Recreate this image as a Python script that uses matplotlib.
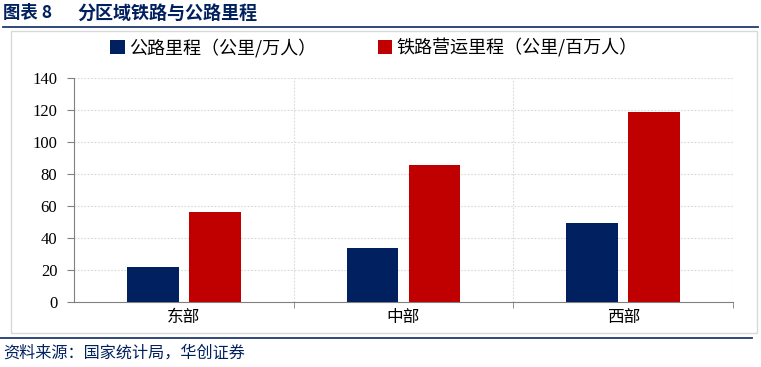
import numpy as np
import matplotlib
matplotlib.use("Agg")
import matplotlib.pyplot as plt
from matplotlib.patches import Rectangle
from matplotlib.lines import Line2D

plt.rcParams['font.family'] = ['Noto Sans CJK SC', 'DejaVu Sans']

regions  = ["东部", "中部", "西部"]
highway  = [22, 34, 49.5]
railway  = [56.5, 85.5, 118.5]
names    = ["公路里程（公里/万人）", "铁路营运里程（公里/百万人）"]
yticks   = [0, 20, 40, 60, 80, 100, 120, 140]

navy = "#002060"
red  = "#C00000"
line = "#1F3A6E"

W, H = 761, 367
fig = plt.figure(figsize=(W/100, H/100), dpi=100)

def fx(px): return px / W
def fy(py): return 1 - py / H

# title + rules
fig.text(fx(3), fy(13), "图表 8", fontsize=12.5, fontweight="bold",
         color=navy, va="center", ha="left")
fig.text(fx(77), fy(13), "分区域铁路与公路里程", fontsize=13, fontweight="bold",
         color=navy, va="center", ha="left")
fig.add_artist(Line2D([fx(3), fx(758)], [fy(27), fy(27)], color=line, lw=1.3))
fig.add_artist(Line2D([fx(0), fx(752)], [fy(337.5), fy(337.5)], color=line, lw=1.3))
fig.add_artist(Rectangle((fx(11), fy(333)), fx(757) - fx(11), fy(31) - fy(333),
                         fill=False, ec="#D9D9D9", lw=1.0))
fig.text(fx(3), fy(353), "资料来源：国家统计局，华创证券", fontsize=11.6, style="italic",
         color=navy, va="center", ha="left")

ax = fig.add_axes([fx(74), fy(302), fx(733) - fx(74), fy(78) - fy(302)])
x = np.arange(len(regions))
bw = 0.236
off = 0.141
b1 = ax.bar(x - off, highway, bw, color=navy, label=names[0], zorder=3)
b2 = ax.bar(x + off, railway, bw, color=red, label=names[1], zorder=3)

ax.set_xlim(-0.5, 2.5)
ax.set_ylim(0, 140)
ax.set_yticks(yticks)
ax.set_yticklabels([str(v) for v in yticks], fontfamily="Liberation Serif", fontsize=12)
ax.set_xticks(x)
ax.set_xticklabels(regions, fontsize=12)
ax.set_xticks([0.5, 1.5, 2.5], minor=True)
ax.tick_params(axis="x", which="major", length=0, pad=5)
ax.tick_params(axis="x", which="minor", length=4, color="#808080")
ax.tick_params(axis="y", length=5, color="#808080", pad=7)

ax.grid(axis="y", color="#D9D9D9", ls=(0, (1.5, 1.5)), lw=0.8, zorder=0)
for v in [0.5, 1.5, 2.5]:
    ax.axvline(v, color="#D9D9D9", ls=(0, (1.5, 1.5)), lw=0.8, zorder=0)

for s in ["top", "right"]:
    ax.spines[s].set_visible(False)
ax.spines["left"].set_color("#808080")
ax.spines["bottom"].set_color("#808080")

leg = fig.legend(handles=[b1, b2], loc="center left", bbox_to_anchor=(fx(94), fy(48)),
                 ncol=2, frameon=False, fontsize=13, handlelength=0.8, handleheight=0.8,
                 handletextpad=0.25, columnspacing=3.4)

fig.savefig("out.png", dpi=100)
